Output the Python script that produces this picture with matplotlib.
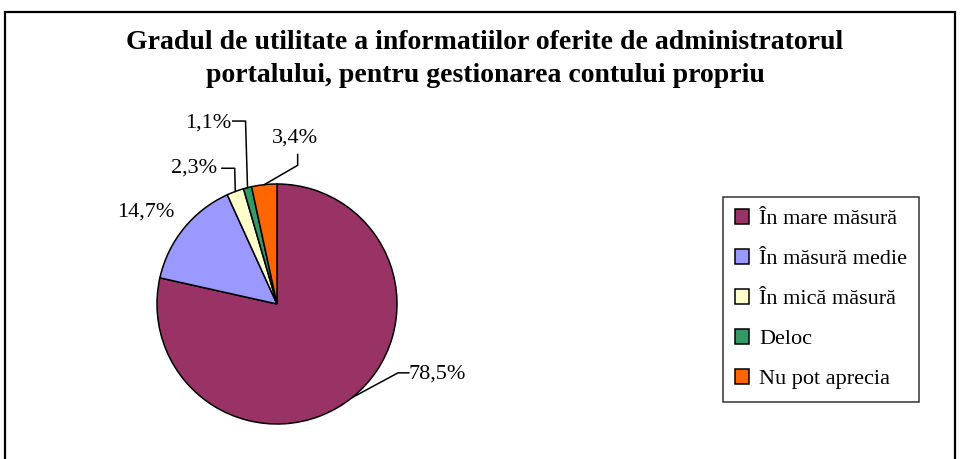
import matplotlib
matplotlib.use("Agg")
import matplotlib.pyplot as plt
from matplotlib.patches import Rectangle
import numpy as np

plt.rcParams['font.family'] = ['Liberation Serif', 'DejaVu Serif']

categories = ["În mare măsură", "În măsură medie", "În mică măsură", "Deloc", "Nu pot aprecia"]
values = [78.5, 14.7, 2.3, 1.1, 3.4]
colors = ["#993366", "#9999FF", "#FFFFCC", "#339966", "#FF6600"]
title = "Gradul de utilitate a informatiilor oferite de administratorul\nportalului, pentru gestionarea contului propriu"

W, H = 960, 459
fig = plt.figure(figsize=(9.6, 4.59), dpi=100)

# outer frame (bottom runs off the picture)
fig.patches.append(Rectangle((5 / W, -0.05), 950 / W, (H - 12) / H + 0.05,
                             transform=fig.transFigure, fill=False,
                             edgecolor="black", linewidth=1.6))

fig.text(485 / W, 1 - 59 / H, title, ha="center", va="center",
         fontsize=20, fontweight="bold", linespacing=1.4)

# pie axes: centre (277, 304) px, radius 122 px
R = 122
cx, cy = 277, 304
half = 150
ax = fig.add_axes([(cx - half) / W, (H - cy - half) / H, 2 * half / W, 2 * half / H])
lim = half / R
ax.set_xlim(-lim, lim)
ax.set_ylim(-lim, lim)
ax.axis("off")

wedges, _ = ax.pie(values, colors=colors, startangle=90, counterclock=False,
                   radius=1, wedgeprops=dict(edgecolor="black", linewidth=1.1))

def px(x, y):
    return ((x - cx) / R, (cy - y) / R)

def label(v):
    return f"{v:.1f}%".replace(".", ",")

# label position (pixels) and leader bend points (pixels)
label_pos = [(440, 375), (144, 211), (193, 166), (207, 120), (295, 135)]
leaders = [
    [(411, 374), (400, 374)],
    None,
    [(221, 166), (234, 166)],
    [(232, 118), (245, 118)],
    [(298, 152), (298, 163)],
]

fs = 16
for w, v, pos, lead in zip(wedges, values, label_pos, leaders):
    tx, ty = px(*pos)
    ax.text(tx, ty, label(v), ha="center", va="center", fontsize=fs)
    if lead:
        mid = np.deg2rad((w.theta1 + w.theta2) / 2)
        ex, ey = np.cos(mid), np.sin(mid)
        pts = [px(*p) for p in lead] + [(ex, ey)]
        xs, ys = zip(*pts)
        ax.plot(xs, ys, color="black", linewidth=1.1, clip_on=False)

leg = fig.legend(wedges, categories, loc="upper left",
                 bbox_to_anchor=(723 / W, 1 - 197 / H), borderaxespad=0,
                 fontsize=fs, frameon=True, fancybox=False, edgecolor="black",
                 handlelength=0.62, handleheight=0.62, handletextpad=0.45,
                 labelspacing=0.9, borderpad=0.55)
leg.get_frame().set_linewidth(1.1)

fig.savefig("out.png", dpi=100)
